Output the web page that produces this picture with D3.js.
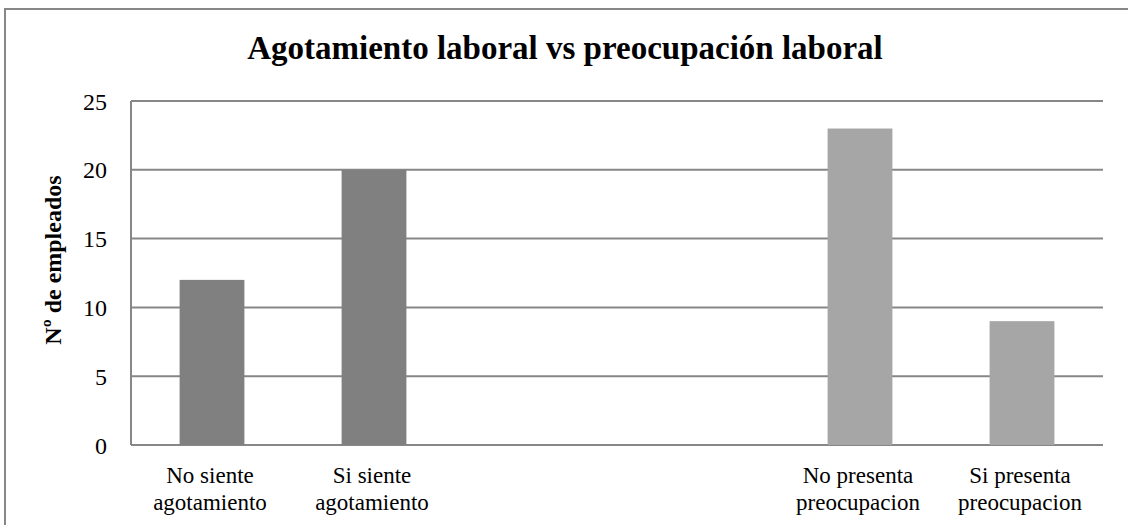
<!DOCTYPE html>
<html>
<head>
<meta charset="utf-8">
<script src="https://cdn.jsdelivr.net/npm/d3@7"></script>
<style>
  body { margin: 0; background: #fff; }
</style>
</head>
<body>
<svg id="chart" width="1128" height="525"></svg>
<script>
// categories (two empty slots in the middle, as in the source sheet)
const categories = ['c1', 'c2', 'c3', 'c4', 'c5', 'c6'];
const catLabels = [['No siente', 'agotamiento'], ['Si siente', 'agotamiento'], [], [], ['No presenta', 'preocupacion'], ['Si presenta', 'preocupacion']];
const agotamiento = [12, 20, null, null, null, null];
const preocupacion = [null, null, null, null, 23, 9];
const yTicks = [0, 5, 10, 15, 20, 25];

const width = 1128, height = 525;
const margin = {top: 101, right: 25, bottom: 80, left: 131};
const FONT = "'Liberation Serif', 'Times New Roman', Times, 'DejaVu Serif', serif";

const svg = d3.select('#chart');

// outer frame (runs off the right/bottom edge)
svg.append('rect')
  .attr('x', 5).attr('y', 9)
  .attr('width', 1140).attr('height', 540)
  .attr('fill', 'none')
  .attr('stroke', '#878787')
  .attr('stroke-width', 2);

svg.append('text')
  .attr('x', 565).attr('y', 59)
  .attr('text-anchor', 'middle')
  .attr('font-family', FONT)
  .attr('font-size', 33)
  .attr('font-weight', 'bold')
  .text('Agotamiento laboral vs preocupación laboral');

const x = d3.scaleBand()
  .domain(categories)
  .range([margin.left, width - margin.right])
  .paddingInner(0.6)
  .paddingOuter(0.3);

const y = d3.scaleLinear()
  .domain([0, 25])
  .range([height - margin.bottom, margin.top]);

const g = svg.append('g');

// gridlines
g.selectAll('line.grid')
  .data(yTicks)
  .enter()
  .append('line')
  .attr('x1', margin.left)
  .attr('x2', width - margin.right)
  .attr('y1', d => y(d))
  .attr('y2', d => y(d))
  .attr('stroke', '#878787')
  .attr('stroke-width', 2);

// left axis line
g.append('line')
  .attr('x1', margin.left).attr('x2', margin.left)
  .attr('y1', y(25)).attr('y2', y(0))
  .attr('stroke', '#878787')
  .attr('stroke-width', 2);

// y tick labels
g.selectAll('text.ytick')
  .data(yTicks)
  .enter()
  .append('text')
  .attr('x', 107)
  .attr('y', d => y(d) + 8.5)
  .attr('text-anchor', 'end')
  .attr('font-family', FONT)
  .attr('font-size', 24)
  .text(d => d);

const seriesList = [
  {values: agotamiento, color: '#808080'},
  {values: preocupacion, color: '#a6a6a6'}
];

seriesList.forEach(s => {
  const rows = categories.map((c, i) => ({cat: c, v: s.values[i]})).filter(d => d.v != null);
  g.selectAll(null)
    .data(rows)
    .enter()
    .append('rect')
    .attr('x', d => x(d.cat))
    .attr('width', x.bandwidth())
    .attr('y', d => y(d.v))
    .attr('height', d => y(0) - y(d.v))
    .attr('fill', s.color);
});

// x labels
categories.forEach((c, i) => {
  const t = g.append('text')
    .attr('text-anchor', 'middle')
    .attr('font-family', FONT)
    .attr('font-size', 23);
  catLabels[i].forEach((line, j) => {
    t.append('tspan')
      .attr('x', x(c) + x.bandwidth() / 2 - 2)
      .attr('y', 483 + j * 27)
      .text(line);
  });
});

// y axis title
svg.append('text')
  .attr('transform', 'translate(61, 260) rotate(-90)')
  .attr('text-anchor', 'middle')
  .attr('font-family', FONT)
  .attr('font-size', 24)
  .attr('font-weight', 'bold')
  .text('Nº de empleados');
</script>
</body>
</html>
